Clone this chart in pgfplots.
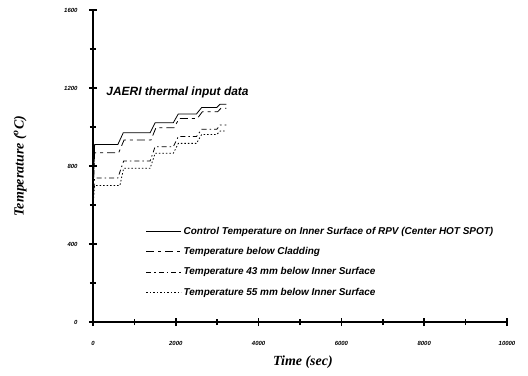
\documentclass[border=0pt]{standalone}
\usepackage{fontspec}
\setmainfont{Liberation Sans}
\newfontfamily\labfont{Liberation Serif}
\usepackage{pgfplots}
\pgfplotsset{compat=1.18}
\begin{document}
\begin{tikzpicture}
\path (-93bp,-54bp) rectangle (435bp,322bp);
\begin{axis}[
  scale only axis, width=414bp, height=312bp,
  at={(0,0)}, anchor=south west,
  xmin=0, xmax=10000, ymin=0, ymax=1600,
  scaled ticks=false,
  axis lines=left, axis line style={-, line width=2pt},
  xtick={0,2000,...,10000}, ytick={0,400,...,1600},
  minor xtick={1000,3000,...,9000}, minor ytick={200,600,...,1400},
  tick align=center, major tick length=8bp, minor tick length=6bp,
  every tick/.style={black, line width=1.6pt},
  /pgf/number format/1000 sep={},
  /pgf/number format/assume math mode=true,
  ticklabel style={font=\fontsize{6}{7}\selectfont\bfseries\itshape},
  xticklabel style={yshift=-12bp},
  yticklabel style={xshift=-8bp},
  xlabel={Time (sec)}, ylabel={Temperature (\textsuperscript{o}C)},
  label style={font=\labfont\fontsize{14}{16}\selectfont\bfseries\itshape},
  xlabel style={at={(axis description cs:0.507,-0.128)}, anchor=center},
  ylabel style={at={(axis description cs:-0.176,0.5)}, anchor=center},
  legend style={at={(0.12,0.317)}, anchor=north west, draw=none, fill=none,
    font=\fontsize{10}{11}\selectfont\bfseries\itshape, row sep=7.5bp,
    cells={anchor=west}},
  legend image code/.code={\draw[#1] (0bp,0bp) -- (35bp,0bp);},
]
\addplot[black, line width=0.8pt] coordinates {
 (0,650) (40,910) (600,910) (730,970) (1380,970) (1500,1022) (1940,1022)
 (2060,1067) (2500,1067) (2625,1100) (2990,1100) (3070,1117) (3220,1117)};
\addlegendentry{Control Temperature on Inner Surface of RPV (Center HOT SPOT)}
\addplot[black, line width=0.8pt, dash pattern=on 8bp off 4bp on 3bp off 4bp] coordinates {
 (0,640) (40,868) (620,868) (750,933) (1400,933) (1520,996) (1960,996)
 (2080,1044) (2520,1044) (2640,1078) (3010,1078) (3090,1096) (3220,1096)};
\addlegendentry{Temperature below Cladding}
\addplot[black, line width=0.8pt, dash pattern=on 5bp off 3bp on 1.5bp off 3bp] coordinates {
 (0,620) (40,738) (600,738) (740,826) (1380,826) (1500,899) (1940,899)
 (2060,951) (2500,951) (2625,988) (2990,988) (3070,1010) (3220,1010)};
\addlegendentry{Temperature 43 mm below Inner Surface}
\addplot[black, line width=0.8pt, dash pattern=on 1.5bp off 2bp] coordinates {
 (0,600) (40,700) (650,700) (740,788) (1380,788) (1500,865) (1940,865)
 (2060,916) (2500,916) (2625,962) (2990,962) (3070,979) (3220,979)};
\addlegendentry{Temperature 55 mm below Inner Surface}
\node[anchor=base west, font=\fontsize{12}{14}\selectfont\bfseries\itshape] at (axis cs:240,1162) {JAERI thermal input data};
\end{axis}
\end{tikzpicture}
\end{document}
